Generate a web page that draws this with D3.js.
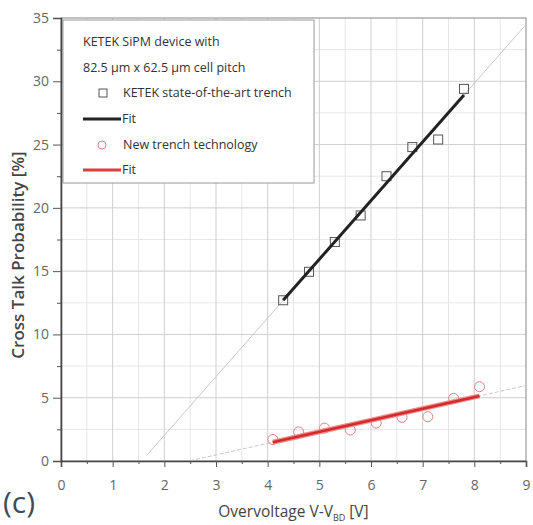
<!DOCTYPE html>
<html>
<head>
<meta charset="utf-8">
<script src="https://cdn.jsdelivr.net/npm/d3@7"></script>
<style>
  body { margin: 0; background: #fff; }
  svg text { font-family: "Open Sans", "DejaVu Sans", sans-serif; }
</style>
</head>
<body>
<div id="chart"></div>
<script>
// KETEK state-of-the-art trench (squares)
const ketekX = [4.3, 4.8, 5.3, 5.8, 6.3, 6.8, 7.3, 7.8];
const ketekY = [12.7, 14.95, 17.3, 19.4, 22.5, 24.8, 25.4, 29.4];
// New trench technology (circles)
const newX = [4.1, 4.6, 5.1, 5.6, 6.1, 6.6, 7.1, 7.6, 8.1];
const newY = [1.7, 2.3, 2.6, 2.45, 3.0, 3.45, 3.5, 4.95, 5.87];
// extent of the faint extrapolated fit lines
const ketekExtX = [1.66, 9];
const newExtX = [2.5, 9];

const xTicks = [0, 1, 2, 3, 4, 5, 6, 7, 8, 9];
const yTicks = [0, 5, 10, 15, 20, 25, 30, 35];

const legendLines = ["KETEK SiPM device with", "82.5 µm x 62.5 µm cell pitch"];
const legendSeries = ["KETEK state-of-the-art trench", "Fit", "New trench technology", "Fit"];

const W = 533, H = 525;
const margin = {left: 61, right: 7, top: 18, bottom: 64};
const iw = W - margin.left - margin.right;
const ih = H - margin.top - margin.bottom;

const svg = d3.select("#chart").append("svg")
    .attr("width", W)
    .attr("height", H);

const g = svg.append("g")
    .attr("transform", `translate(${margin.left},${margin.top})`);

const x = d3.scaleLinear().domain([0, 9]).range([0, iw]);
const y = d3.scaleLinear().domain([0, 35]).range([ih, 0]);

function linfit(xs, ys) {
    const mx = d3.mean(xs), my = d3.mean(ys);
    let sxy = 0, sxx = 0;
    xs.forEach((v, i) => { sxy += (v - mx) * (ys[i] - my); sxx += (v - mx) * (v - mx); });
    const b = sxy / sxx;
    return v => my + b * (v - mx);
}

// grid
const minorX = d3.range(0.5, 9, 1);
const minorY = d3.range(2.5, 35, 5);
g.append("g").selectAll("line").data(minorX).join("line")
    .attr("x1", d => x(d)).attr("x2", d => x(d))
    .attr("y1", 0).attr("y2", ih)
    .attr("stroke", "#e6e6e6").attr("stroke-width", 1);
g.append("g").selectAll("line").data(minorY).join("line")
    .attr("y1", d => y(d)).attr("y2", d => y(d))
    .attr("x1", 0).attr("x2", iw)
    .attr("stroke", "#e6e6e6").attr("stroke-width", 1);
g.append("g").selectAll("line").data(xTicks.slice(1, -1)).join("line")
    .attr("x1", d => x(d)).attr("x2", d => x(d))
    .attr("y1", 0).attr("y2", ih)
    .attr("stroke", "#cfcfcf").attr("stroke-width", 1);
g.append("g").selectAll("line").data(yTicks.slice(1, -1)).join("line")
    .attr("y1", d => y(d)).attr("y2", d => y(d))
    .attr("x1", 0).attr("x2", iw)
    .attr("stroke", "#cfcfcf").attr("stroke-width", 1);

// frame top/right
g.append("rect")
    .attr("width", iw).attr("height", ih)
    .attr("fill", "none").attr("stroke", "#999").attr("stroke-width", 1.2);

// fits
const fitK = linfit(ketekX, ketekY);
const fitN = linfit(newX, newY);
const line = d3.line().x(d => x(d[0])).y(d => y(d[1]));

g.append("path")
    .attr("d", line(ketekExtX.map(v => [v, fitK(v)])))
    .attr("fill", "none").attr("stroke", "#c8c8c8").attr("stroke-width", 1);
g.append("path")
    .attr("d", line(newExtX.map(v => [v, fitN(v)])))
    .attr("fill", "none").attr("stroke", "#c8c8c8").attr("stroke-width", 1)
    .attr("stroke-dasharray", "4,2");

// legend box
const lg = g.append("g").attr("transform", "translate(2,2)");
lg.append("rect")
    .attr("width", 251).attr("height", 163)
    .attr("fill", "#fff").attr("stroke", "#999").attr("stroke-width", 1);

// data points
g.append("g").selectAll("rect").data(ketekX).join("rect")
    .attr("x", d => x(d) - 4.5)
    .attr("y", (d, i) => y(ketekY[i]) - 4.5)
    .attr("width", 9).attr("height", 9)
    .attr("fill", "none").attr("stroke", "#555").attr("stroke-width", 1);
g.append("g").selectAll("circle").data(newX).join("circle")
    .attr("cx", d => x(d))
    .attr("cy", (d, i) => y(newY[i]))
    .attr("r", 5)
    .attr("fill", "none").attr("stroke", "#e88080").attr("stroke-width", 1);

g.append("path")
    .attr("d", line(d3.extent(ketekX).map(v => [v, fitK(v)])))
    .attr("fill", "none").attr("stroke", "#222").attr("stroke-width", 3);
g.append("path")
    .attr("d", line(d3.extent(newX).map(v => [v, fitN(v)])))
    .attr("fill", "none").attr("stroke", "#f08a8a").attr("stroke-width", 5);
g.append("path")
    .attr("d", line(d3.extent(newX).map(v => [v, fitN(v)])))
    .attr("fill", "none").attr("stroke", "#d42a2a").attr("stroke-width", 2.5);

// axes
g.append("g")
    .attr("transform", `translate(0,${ih})`)
    .call(d3.axisBottom(x).tickValues(xTicks).tickSize(6).tickPadding(13).tickFormat(d3.format("d")));
g.append("g")
    .attr("transform", `translate(0,${ih})`)
    .call(d3.axisBottom(x).tickValues(minorX).tickSize(3).tickFormat(""))
    .call(a => a.select(".domain").remove());
g.append("g")
    .call(d3.axisLeft(y).tickValues(yTicks).tickSize(8).tickPadding(4).tickFormat(d3.format("d")));
g.append("g")
    .call(d3.axisLeft(y).tickValues(minorY).tickSize(4).tickFormat(""))
    .call(a => a.select(".domain").remove());

svg.selectAll(".tick line").attr("stroke", "#555");
svg.selectAll(".domain").attr("stroke", "#444").attr("stroke-width", 1.6);
svg.selectAll(".tick text").attr("fill", "#666").attr("font-size", 14);

// legend content
const lx = 20;
lg.selectAll("text.hdr").data(legendLines).join("text")
    .attr("class", "hdr")
    .attr("x", lx).attr("y", (d, i) => 22 + i * 25.5)
    .attr("dy", "0.35em")
    .attr("font-size", 12.5).attr("fill", "#333")
    .text(d => d);
const rowY = [73, 99, 125, 150];
lg.selectAll("text.ser").data(legendSeries).join("text")
    .attr("class", "ser")
    .attr("x", (d, i) => i % 2 ? 59 : 60).attr("y", (d, i) => rowY[i])
    .attr("dy", "0.35em")
    .attr("font-size", 12.5).attr("fill", "#333")
    .text(d => d);
lg.append("rect").attr("x", 36).attr("y", rowY[0] - 4).attr("width", 8).attr("height", 8)
    .attr("fill", "none").attr("stroke", "#555");
lg.append("line").attr("x1", lx).attr("x2", 58).attr("y1", rowY[1]).attr("y2", rowY[1])
    .attr("stroke", "#222").attr("stroke-width", 3);
lg.append("circle").attr("cx", 39).attr("cy", rowY[2]).attr("r", 4)
    .attr("fill", "none").attr("stroke", "#e88080");
lg.append("line").attr("x1", lx).attr("x2", 58).attr("y1", rowY[3]).attr("y2", rowY[3])
    .attr("stroke", "#d84040").attr("stroke-width", 3);

// axis titles
svg.append("text")
    .attr("transform", `translate(18,255) rotate(-90)`)
    .attr("text-anchor", "middle").attr("dy", "0.35em")
    .attr("font-size", 17).attr("font-weight", 600).attr("fill", "#444")
    .text("Cross Talk Probability [%]");

const xt = svg.append("text")
    .attr("x", margin.left + iw / 2).attr("y", 517)
    .attr("text-anchor", "middle")
    .attr("font-size", 15.5).attr("fill", "#444");
xt.append("tspan").text("Overvoltage V-V");
xt.append("tspan").attr("font-size", 9).attr("dy", 4).text("BD");
xt.append("tspan").attr("dy", -4).text(" [V]");

svg.append("text")
    .attr("x", 3).attr("y", 513)
    .attr("font-size", 30).attr("fill", "#3d4b5c")
    .text("(c)");
</script>
</body>
</html>
